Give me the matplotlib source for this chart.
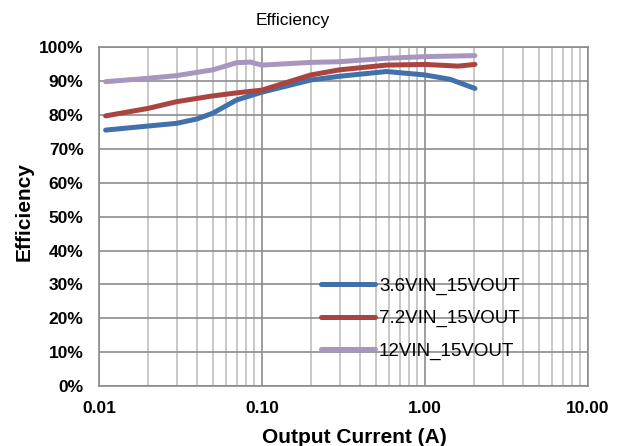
import matplotlib
matplotlib.use("Agg")
import matplotlib.pyplot as plt
from matplotlib.ticker import FixedLocator, FuncFormatter, NullFormatter, LogLocator

plt.rcParams['font.family'] = ['Liberation Sans', 'DejaVu Sans']

# 出力電流 (A) と効率 (%)
i_36 = [0.011, 0.02, 0.03, 0.04, 0.05, 0.07, 0.1, 0.2, 0.3, 0.58, 1.0, 1.43, 2.03]
eff_36 = [75.6, 76.8, 77.6, 78.9, 80.6, 84.5, 86.8, 90.4, 91.5, 92.9, 91.9, 90.6, 87.9]

i_72 = [0.011, 0.02, 0.03, 0.05, 0.07, 0.1, 0.2, 0.3, 0.58, 1.0, 1.6, 2.03]
eff_72 = [79.8, 82.0, 84.0, 85.7, 86.6, 87.4, 91.9, 93.4, 94.8, 95.0, 94.5, 95.0]

i_12 = [0.011, 0.02, 0.03, 0.05, 0.07, 0.085, 0.1, 0.2, 0.3, 0.58, 1.0, 2.03]
eff_12 = [89.9, 90.9, 91.7, 93.4, 95.5, 95.7, 94.8, 95.6, 95.8, 96.8, 97.3, 97.6]

labels = ["3.6VIN_15VOUT", "7.2VIN_15VOUT", "12VIN_15VOUT"]
colors = ["#4170AA", "#AA4440", "#A797BF"]

fig = plt.figure(figsize=(6.22, 4.46), dpi=100)
ax = fig.add_axes([0.159, 0.1345, 0.786, 0.759])

for x, y, lab, c in zip([i_36, i_72, i_12], [eff_36, eff_72, eff_12], labels, colors):
    ax.plot(x, y, color=c, lw=3.6, label=lab, solid_capstyle='round', zorder=3)

ax.set_xscale('log')
ax.set_xlim(0.01, 10)
ax.set_ylim(0, 100)

ax.xaxis.set_major_locator(FixedLocator([0.01, 0.1, 1, 10]))
ax.xaxis.set_major_formatter(FuncFormatter(lambda v, p: "%.2f" % v))
ax.xaxis.set_minor_locator(LogLocator(base=10, subs=range(2, 10)))
ax.xaxis.set_minor_formatter(NullFormatter())
ax.set_yticks(range(0, 101, 10))
ax.yaxis.set_major_formatter(FuncFormatter(lambda v, p: "%d%%" % v))

ax.grid(True, which='major', color='#8C8C8C', lw=1.2, zorder=1)
ax.grid(True, which='minor', axis='x', color='#BFBFBF', lw=1.2, zorder=1)
ax.tick_params(which='both', length=0, labelsize=12.5, pad=11)
for t in ax.get_xticklabels() + ax.get_yticklabels():
    t.set_fontweight('bold')
for s in ax.spines.values():
    s.set_color('#8C8C8C')
    s.set_linewidth(1.2)

# タイトルはチャート領域の中央
fig.text(0.47, 0.955, "Efficiency", fontsize=12.5, ha='center', va='center')
fig.text(0.569, 0.02, "Output Current (A)", fontsize=15, fontweight='bold',
         ha='center', va='center')
fig.text(0.039, 0.525, "Efficiency", fontsize=15, fontweight='bold',
         ha='center', va='center', rotation=90)

leg = ax.legend(loc='center left', bbox_to_anchor=(0.454, 0.199), frameon=False,
                fontsize=13.5, handlelength=2.9, handletextpad=0.2,
                labelspacing=0.82, borderaxespad=0, borderpad=0)

fig.savefig("out.png", dpi=100)
